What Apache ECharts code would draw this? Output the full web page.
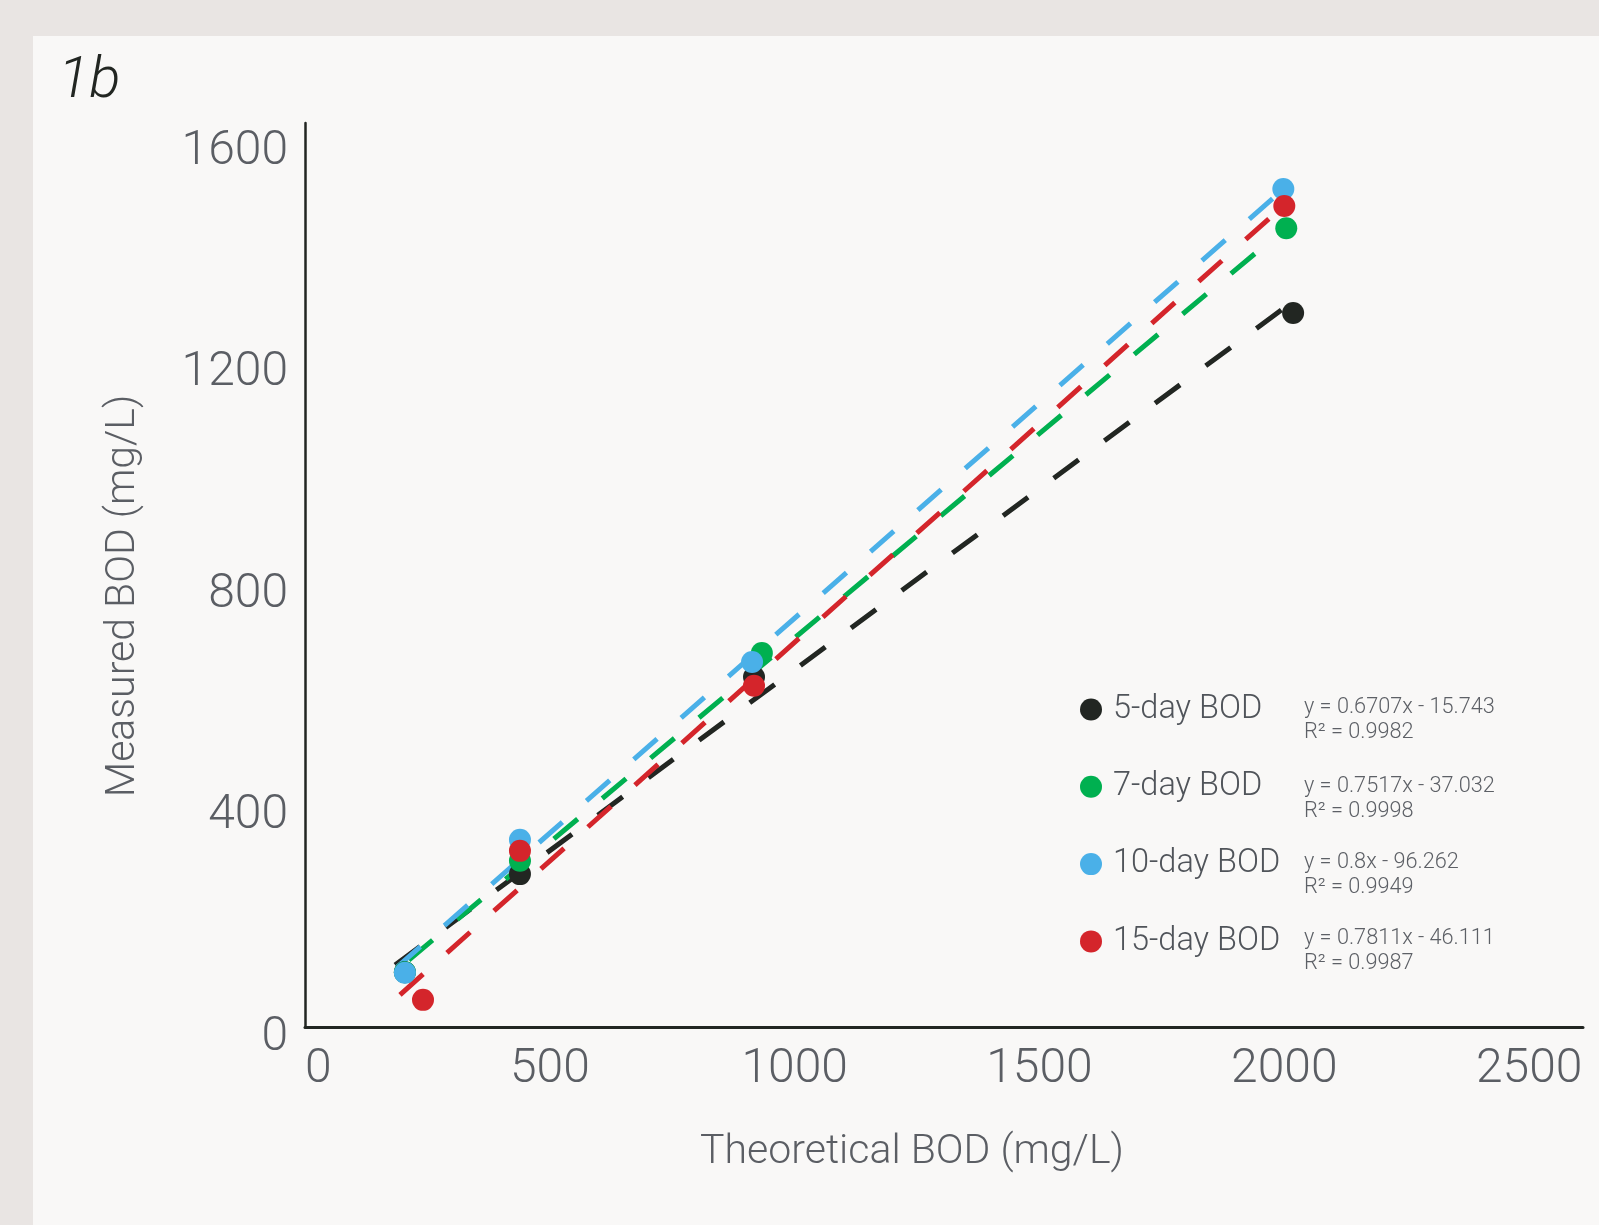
<!DOCTYPE html>
<html>
<head>
<meta charset="utf-8">
<script src="https://cdn.jsdelivr.net/npm/echarts@6/dist/echarts.min.js"></script>
<style>
html,body{margin:0;padding:0;background:#e9e5e3;}
#chart{position:absolute;left:0;top:0;width:1599px;height:1225px;}
</style>
</head>
<body>
<div id="chart"></div>
<script>
// ---- data ----
const seriesNames = ['5-day BOD', '7-day BOD', '10-day BOD', '15-day BOD'];
const seriesColors = ['#222622', '#00b050', '#4ab0e8', '#d4252b'];

// theoretical BOD (x) and measured BOD (y) per series
const x5 = [204, 439, 917, 2018];
const y5 = [99, 276, 632, 1289];
const x7 = [204, 439, 933, 2004];
const y7 = [99, 300, 675, 1442];
const x10 = [204, 439, 913, 1998];
const y10 = [98, 338, 659, 1513];
const x15 = [241, 439, 917, 2000];
const y15 = [49, 318, 616, 1482];

// trend line endpoints as drawn
const trend5 = [[184, 112], [2004, 1301]];
const trend7 = [[212, 121], [1998, 1439]];
const trend10 = [[188, 108], [1991, 1507]];
const trend15 = [[194, 58], [2000, 1484]];

const equations = ['y = 0.6707x - 15.743', 'y = 0.7517x - 37.032', 'y = 0.8x - 96.262', 'y = 0.7811x - 46.111'];
const rSquared = ['R\u00b2 = 0.9982', 'R\u00b2 = 0.9998', 'R\u00b2 = 0.9949', 'R\u00b2 = 0.9987'];

const xTickLabels = ['0', '500', '1000', '1500', '2000', '2500'];
const yTickLabels = ['0', '400', '800', '1200', '1600'];

const panelLabel = '1b';
const xTitle = 'Theoretical BOD (mg/L)';
const yTitle = 'Measured BOD (mg/L)';

// ---- build ----
const xs = [x5, x7, x10, x15];
const ys = [y5, y7, y10, y15];
const trends = [trend5, trend7, trend10, trend15];

const FONT = 'Roboto';
const labelColor = '#5b5e64';
const series = [];
seriesNames.forEach((name, i) => {
  series.push({
    name: name,
    type: 'scatter',
    symbol: 'circle',
    symbolSize: 22,
    itemStyle: { color: seriesColors[i], opacity: 1 },
    data: xs[i].map((v, k) => [v, ys[i][k]]),
    z: 3
  });
  series.push({
    name: name + ' trend',
    type: 'line',
    showSymbol: false,
    symbol: 'none',
    silent: true,
    lineStyle: { color: seriesColors[i], width: 5, type: [31, 32], cap: 'butt' },
    data: trends[i],
    z: 3
  });
});

const eqGraphics = [];
const eqTop = [708, 787, 863, 939];
equations.forEach((eq, i) => {
  eqGraphics.push({
    type: 'text', x: 1304, y: eqTop[i],
    style: { text: eq, fontSize: 21.7, fontFamily: FONT, fontWeight: 300, fill: '#5d6066', verticalAlign: 'middle', align: 'left' }
  });
  eqGraphics.push({
    type: 'text', x: 1304, y: eqTop[i] + 25,
    style: { text: rSquared[i], fontSize: 21.7, fontFamily: FONT, fontWeight: 300, fill: '#5d6066', verticalAlign: 'middle', align: 'left' }
  });
});

const chart = echarts.init(document.getElementById('chart'), null, { renderer: 'canvas' });
chart.setOption({
  animation: false,
  backgroundColor: 'transparent',
  grid: { left: 305, top: 123, right: 16, bottom: 198, containLabel: false, outerBoundsMode: 'none' },
  xAxis: {
    type: 'value', min: 0, max: 2610, interval: 500,
    axisLine: { show: true, onZero: false, lineStyle: { color: '#222622', width: 3 } },
    axisTick: { show: false },
    splitLine: { show: false },
    axisLabel: {
      margin: 19, fontSize: 48, fontFamily: FONT, fontWeight: 300, color: labelColor,
      alignMinLabel: 'left',
      formatter: v => xTickLabels.indexOf(String(v)) >= 0 ? String(v) : ''
    }
  },
  yAxis: {
    type: 'value', min: 0, max: 1632, interval: 400,
    axisLine: { show: true, onZero: false, lineStyle: { color: '#222622', width: 2.5 } },
    axisTick: { show: false },
    splitLine: { show: false },
    axisLabel: {
      margin: 17, fontSize: 48, fontFamily: FONT, fontWeight: 300, color: labelColor,
      verticalAlign: 'top', lineHeight: 22,
      formatter: v => yTickLabels.indexOf(String(v)) >= 0 ? String(v) : ''
    }
  },
  legend: {
    data: seriesNames,
    orient: 'vertical',
    left: 1075, top: 688,
    icon: 'circle',
    itemWidth: 22, itemHeight: 22,
    itemGap: 44.3,
    textStyle: { fontSize: 32.5, fontFamily: FONT, fontWeight: 300, color: '#50545a', padding: [0, 0, 0, 6] },
    selectedMode: false
  },
  graphic: [
    { type: 'rect', z: -10, silent: true, shape: { x: 33, y: 36, width: 1566, height: 1189 }, style: { fill: '#f9f8f7' } },
    { type: 'text', x: 58, y: 82, style: { text: panelLabel, fontSize: 58, fontFamily: FONT, fontStyle: 'italic', fontWeight: 300, fill: '#222622', verticalAlign: 'middle' } },
    { type: 'text', x: 912, y: 1153, style: { text: xTitle, fontSize: 41, fontFamily: FONT, fontWeight: 300, fill: labelColor, align: 'center', verticalAlign: 'middle' } },
    { type: 'text', x: 124, y: 596, rotation: Math.PI / 2, style: { text: yTitle, fontSize: 41, fontFamily: FONT, fontWeight: 300, fill: labelColor, align: 'center', verticalAlign: 'middle' } }
  ].concat(eqGraphics),
  series: series
});
</script>
</body>
</html>
